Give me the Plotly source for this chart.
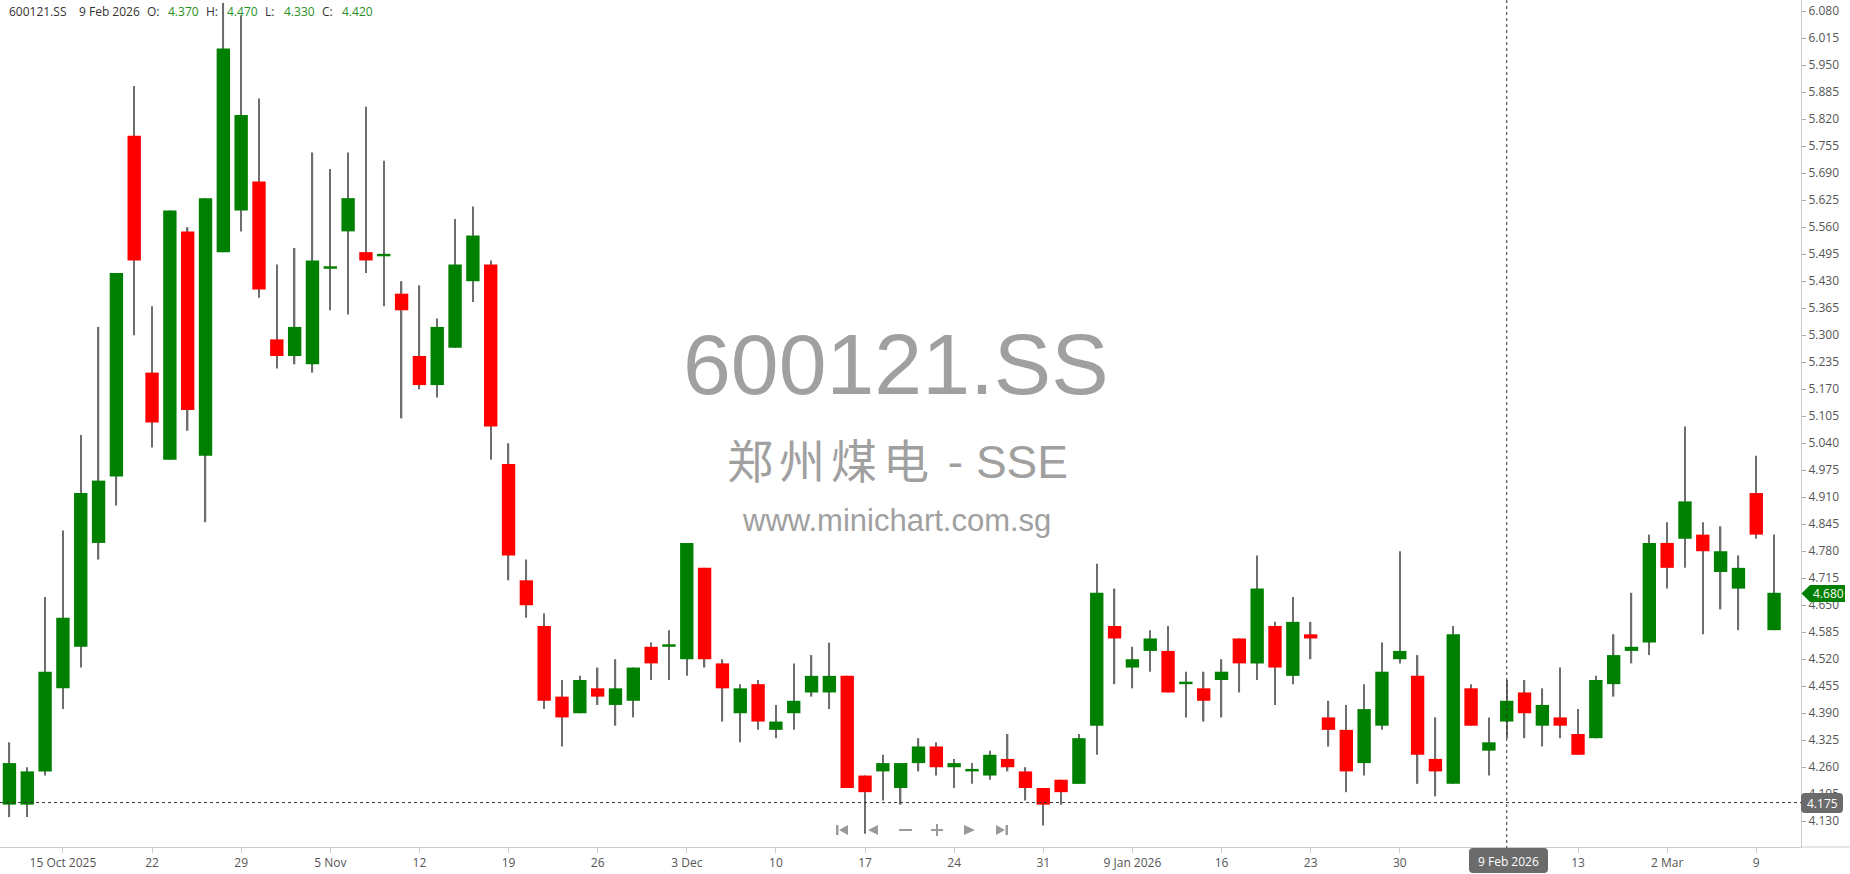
import plotly.graph_objects as go

GREEN = '#008000'
RED = '#ff0000'
WICK = '#6e6e6e'
LABEL = '#555555'

DATES = [
    '2025-10-10', '2025-10-13', '2025-10-14', '2025-10-15', '2025-10-16', '2025-10-17',
    '2025-10-20', '2025-10-21', '2025-10-22', '2025-10-23', '2025-10-24', '2025-10-27',
    '2025-10-28', '2025-10-29', '2025-10-30', '2025-10-31',
    '2025-11-03', '2025-11-04', '2025-11-05', '2025-11-06', '2025-11-07', '2025-11-10',
    '2025-11-11', '2025-11-12', '2025-11-13', '2025-11-14', '2025-11-17', '2025-11-18',
    '2025-11-19', '2025-11-20', '2025-11-21', '2025-11-24', '2025-11-25', '2025-11-26',
    '2025-11-27', '2025-11-28',
    '2025-12-01', '2025-12-02', '2025-12-03', '2025-12-04', '2025-12-05', '2025-12-08',
    '2025-12-09', '2025-12-10', '2025-12-11', '2025-12-12', '2025-12-15', '2025-12-16',
    '2025-12-17', '2025-12-18', '2025-12-19', '2025-12-22', '2025-12-23', '2025-12-24',
    '2025-12-25', '2025-12-26', '2025-12-29', '2025-12-30', '2025-12-31',
    '2026-01-05', '2026-01-06', '2026-01-07', '2026-01-08', '2026-01-09', '2026-01-12',
    '2026-01-13', '2026-01-14', '2026-01-15', '2026-01-16', '2026-01-19', '2026-01-20',
    '2026-01-21', '2026-01-22', '2026-01-23', '2026-01-26', '2026-01-27', '2026-01-28',
    '2026-01-29', '2026-01-30',
    '2026-02-02', '2026-02-03', '2026-02-04', '2026-02-05', '2026-02-06', '2026-02-09',
    '2026-02-10', '2026-02-11', '2026-02-12', '2026-02-13', '2026-02-24', '2026-02-25',
    '2026-02-26', '2026-02-27',
    '2026-03-02', '2026-03-03', '2026-03-04', '2026-03-05', '2026-03-06', '2026-03-09',
    '2026-03-10',
]

OPEN = [
    4.17, 4.17, 4.25, 4.45, 4.55, 4.80, 4.96, 5.78, 5.21, 5.00, 5.55, 5.01, 5.50, 5.60, 5.67, 5.29,
    5.25, 5.23, 5.46, 5.55, 5.50, 5.49, 5.40, 5.25, 5.18, 5.27, 5.43, 5.47, 4.99, 4.71, 4.60, 4.43,
    4.39, 4.45, 4.41, 4.42,
    4.55, 4.55, 4.52, 4.74, 4.51, 4.39, 4.46, 4.35, 4.39, 4.44, 4.44, 4.48, 4.24, 4.25, 4.21, 4.27,
    4.31, 4.26, 4.25, 4.24, 4.28, 4.25, 4.21,
    4.23, 4.22, 4.36, 4.60, 4.50, 4.54, 4.54, 4.46, 4.45, 4.47, 4.57, 4.51, 4.60, 4.48, 4.58, 4.38,
    4.35, 4.27, 4.36, 4.52,
    4.48, 4.28, 4.22, 4.45, 4.30, 4.37, 4.44, 4.36, 4.38, 4.34, 4.33, 4.46, 4.54, 4.56,
    4.80, 4.81, 4.82, 4.73, 4.69, 4.92, 4.59,
]
HIGH = [
    4.32, 4.26, 4.67, 4.83, 5.06, 5.32, 5.45, 5.90, 5.37, 5.60, 5.56, 5.63, 6.10, 6.07, 5.87, 5.47,
    5.51, 5.74, 5.70, 5.74, 5.85, 5.72, 5.43, 5.42, 5.34, 5.58, 5.61, 5.48, 5.04, 4.76, 4.63, 4.47,
    4.48, 4.50, 4.52, 4.50,
    4.56, 4.59, 4.80, 4.74, 4.52, 4.46, 4.47, 4.41, 4.51, 4.53, 4.56, 4.48, 4.24, 4.29, 4.27, 4.33,
    4.32, 4.28, 4.27, 4.30, 4.34, 4.26, 4.21,
    4.23, 4.34, 4.75, 4.69, 4.55, 4.59, 4.60, 4.49, 4.49, 4.52, 4.57, 4.77, 4.61, 4.67, 4.61, 4.42,
    4.41, 4.46, 4.56, 4.78,
    4.53, 4.38, 4.60, 4.46, 4.38, 4.47, 4.47, 4.45, 4.50, 4.40, 4.48, 4.58, 4.68, 4.82,
    4.85, 5.08, 4.85, 4.84, 4.77, 5.01, 4.82,
]
LOW = [
    4.14, 4.14, 4.24, 4.40, 4.50, 4.76, 4.89, 5.30, 5.03, 5.00, 5.07, 4.85, 5.50, 5.55, 5.39, 5.22,
    5.23, 5.21, 5.36, 5.35, 5.45, 5.37, 5.10, 5.17, 5.15, 5.27, 5.38, 5.00, 4.71, 4.62, 4.40, 4.31,
    4.39, 4.41, 4.36, 4.38,
    4.47, 4.47, 4.48, 4.50, 4.37, 4.32, 4.35, 4.33, 4.35, 4.43, 4.40, 4.21, 4.10, 4.18, 4.17, 4.25,
    4.24, 4.21, 4.22, 4.23, 4.25, 4.18, 4.12,
    4.17, 4.22, 4.29, 4.46, 4.45, 4.49, 4.44, 4.38, 4.37, 4.38, 4.44, 4.47, 4.41, 4.46, 4.52, 4.31,
    4.20, 4.24, 4.35, 4.51,
    4.22, 4.19, 4.22, 4.36, 4.24, 4.33, 4.33, 4.31, 4.33, 4.29, 4.33, 4.43, 4.51, 4.53,
    4.69, 4.74, 4.58, 4.64, 4.59, 4.81, 4.59,
]
CLOSE = [
    4.27, 4.25, 4.49, 4.62, 4.92, 4.95, 5.45, 5.48, 5.09, 5.60, 5.12, 5.63, 5.99, 5.83, 5.41, 5.25,
    5.32, 5.48, 5.46, 5.63, 5.48, 5.49, 5.36, 5.18, 5.32, 5.47, 5.54, 5.08, 4.77, 4.65, 4.42, 4.38,
    4.47, 4.43, 4.45, 4.50,
    4.51, 4.55, 4.80, 4.52, 4.45, 4.45, 4.37, 4.37, 4.42, 4.48, 4.48, 4.21, 4.20, 4.27, 4.27, 4.31,
    4.26, 4.27, 4.25, 4.29, 4.26, 4.21, 4.17,
    4.20, 4.33, 4.68, 4.57, 4.52, 4.57, 4.44, 4.46, 4.42, 4.49, 4.51, 4.69, 4.50, 4.61, 4.57, 4.35,
    4.25, 4.40, 4.49, 4.54,
    4.29, 4.25, 4.58, 4.36, 4.32, 4.42, 4.39, 4.41, 4.36, 4.29, 4.47, 4.53, 4.55, 4.80,
    4.74, 4.90, 4.78, 4.78, 4.74, 4.82, 4.68,
]

TICK_DATES = [
    '2025-10-15', '2025-10-22', '2025-10-29', '2025-11-05', '2025-11-12', '2025-11-19',
    '2025-11-26', '2025-12-03', '2025-12-10', '2025-12-17', '2025-12-24', '2025-12-31',
    '2026-01-09', '2026-01-16', '2026-01-23', '2026-01-30', '2026-02-13', '2026-03-02',
    '2026-03-09',
]
TICK_TEXT = [
    '15 Oct 2025', '22', '29', '5 Nov', '12', '19', '26', '3 Dec', '10', '17', '24', '31',
    '9 Jan 2026', '16', '23', '30', '13', '2 Mar', '9',
]
PRICE_TICKS = [
    4.130, 4.195, 4.260, 4.325, 4.390, 4.455, 4.520, 4.585, 4.650, 4.715, 4.780, 4.845,
    4.910, 4.975, 5.040, 5.105, 5.170, 5.235, 5.300, 5.365, 5.430, 5.495, 5.560, 5.625,
    5.690, 5.755, 5.820, 5.885, 5.950, 6.015, 6.080,
]

SYMBOL = '600121.SS'
NAME_CN = '郑州煤电'
NAME_EX = ' - SSE'
SITE = 'www.minichart.com.sg'
CROSS_DATE = '2026-02-09'
CROSS_PRICE = 4.175

# plot area in pixels (used for chrome placed in paper coords)
W, H = 1850, 874
PW, PH = 1801, 847


def px(x):
    return x / PW


def py(y):
    return 1 - y / PH


def rounded(x0, y0, x1, y1, r=4):
    pts = [
        ('M', x0 + r, y0), ('L', x1 - r, y0), ('Q', x1, y0, x1, y0 + r), ('L', x1, y1 - r),
        ('Q', x1, y1, x1 - r, y1), ('L', x0 + r, y1), ('Q', x0, y1, x0, y1 - r),
        ('L', x0, y0 + r), ('Q', x0, y0, x0 + r, y0),
    ]
    out = []
    for p in pts:
        vals = p[1:]
        coords = ' '.join(f'{px(vals[i]):.6f},{py(vals[i + 1]):.6f}' for i in range(0, len(vals), 2))
        out.append(p[0] + ' ' + coords)
    return ' '.join(out) + ' Z'


def poly(points):
    s = ' L '.join(f'{px(x):.6f},{py(y):.6f}' for x, y in points)
    return 'M ' + s + ' Z'


up = [c >= o for o, c in zip(OPEN, CLOSE)]
body_base = [min(o, c) for o, c in zip(OPEN, CLOSE)]
body_len = [max(abs(c - o), 0.006) for o, c in zip(OPEN, CLOSE)]
body_col = [GREEN if u else RED for u in up]

fig = go.Figure()
fig.add_trace(go.Bar(
    x=DATES, y=[h - l for h, l in zip(HIGH, LOW)], base=LOW, width=0.08,
    marker=dict(color=WICK, line=dict(width=0)), hoverinfo='skip',
))
fig.add_trace(go.Bar(
    x=DATES, y=body_len, base=body_base, width=0.75,
    marker=dict(color=body_col, line=dict(width=0)),
    customdata=list(zip(OPEN, HIGH, LOW, CLOSE)),
))

font = dict(family='Open Sans, sans-serif', size=12, color=LABEL)

fig.update_layout(
    width=W, height=H,
    margin=dict(l=0, r=W - PW, t=0, b=H - PH),
    barmode='overlay', showlegend=False,
    paper_bgcolor='white', plot_bgcolor='white',
    font=font,
)
fig.update_xaxes(
    type='category', range=[-0.53, len(DATES) + 0.51],
    tickvals=TICK_DATES, ticktext=TICK_TEXT,
    ticks='outside', ticklen=5, tickcolor='#cccccc',
    showline=True, linecolor='#cccccc', showgrid=False, zeroline=False,
    tickfont=font,
)
fig.update_yaxes(
    side='right', range=[4.068, 6.107],
    tickvals=PRICE_TICKS, ticktext=[f'{v:.3f}' for v in PRICE_TICKS],
    ticks='outside', ticklen=4, tickcolor='#aaaaaa',
    showline=True, linecolor='#cccccc', showgrid=False, zeroline=False,
    tickfont=font,
)

shapes = []
# crosshair
shapes.append(dict(type='line', xref='x', yref='paper', x0=CROSS_DATE, x1=CROSS_DATE,
                   y0=py(849), y1=1, line=dict(color='#333333', width=1, dash='dot')))
shapes.append(dict(type='line', xref='paper', yref='y', x0=0, x1=1, y0=CROSS_PRICE, y1=CROSS_PRICE,
                   line=dict(color='#333333', width=1, dash='3px,3px')))
# bottom axis line runs under the price scale too
shapes.append(dict(type='line', xref='paper', yref='paper', x0=1, x1=px(W), y0=0, y1=0,
                   line=dict(color='#cccccc', width=1)))
# label boxes
shapes.append(dict(type='path', xref='paper', yref='paper', path=rounded(1469, 848, 1548, 873),
                   fillcolor='#6b6b6b', line=dict(width=0)))
shapes.append(dict(type='path', xref='paper', yref='paper', path=rounded(1801, 793, 1843, 813),
                   fillcolor='#6b6b6b', line=dict(width=0)))
shapes.append(dict(type='path', xref='paper', yref='paper',
                   path=poly([(1801.5, 593.5), (1810, 585), (1845, 585), (1845, 602), (1810, 602)]),
                   fillcolor=GREEN, line=dict(width=0)))
# navigation buttons
NAV = '#9a9a9a'
nav_paths = [
    poly([(836, 825), (838.5, 825), (838.5, 835), (836, 835)]),
    poly([(848, 825), (839, 830), (848, 835)]),
    poly([(878, 825), (868, 830), (878, 835)]),
    poly([(899, 829), (912, 829), (912, 831), (899, 831)]),
    poly([(931, 829), (943, 829), (943, 831), (931, 831)]),
    poly([(936, 824), (938, 824), (938, 836), (936, 836)]),
    poly([(964, 825), (975, 830), (964, 835)]),
    poly([(996, 825), (1005, 830), (996, 835)]),
    poly([(1005.5, 825), (1008, 825), (1008, 835), (1005.5, 835)]),
]
for p in nav_paths:
    shapes.append(dict(type='path', xref='paper', yref='paper', path=p,
                       fillcolor=NAV, line=dict(width=0)))
fig.update_layout(shapes=shapes)

ann = []
# watermark
ann.append(dict(text=SYMBOL, x=px(896), y=py(364), font=dict(family='Liberation Sans, Arial', size=86, color='#a0a0a0')))
ann.append(dict(text=f'<span style="letter-spacing:6px">{NAME_CN}</span>{NAME_EX}', x=px(897), y=py(462),
                font=dict(family='Liberation Sans, Noto Sans CJK SC', size=46, color='#a0a0a0')))
ann.append(dict(text=SITE, x=px(896), y=py(520), font=dict(family='Liberation Sans, Arial', size=31, color='#a0a0a0')))
# labels on the boxes
ann.append(dict(text='9 Feb 2026', x=px(1508.5), y=py(861), font=dict(family='Open Sans', size=12, color='white')))
ann.append(dict(text=f'{CROSS_PRICE:.3f}', x=px(1822), y=py(803.5), font=dict(family='Open Sans', size=12, color='white')))
ann.append(dict(text=f'{CLOSE[-1]:.3f}', x=px(1828), y=py(593.5), font=dict(family='Open Sans', size=12, color='white')))

# OHLC header for the crosshair day
i = DATES.index(CROSS_DATE)
VAL = '#1f8f1f'
header = [
    (SYMBOL, 7, '#333333'), ('9 Feb 2026', 77, '#333333'),
    ('O:', 145, '#333333'), (f'{OPEN[i]:.3f}', 166, VAL),
    ('H:', 204, '#333333'), (f'{HIGH[i]:.3f}', 225, VAL),
    ('L:', 263, '#333333'), (f'{LOW[i]:.3f}', 282, VAL),
    ('C:', 320, '#333333'), (f'{CLOSE[i]:.3f}', 340, VAL),
]
for txt, x, col in header:
    ann.append(dict(text=txt, x=px(x), y=py(11), xanchor='left',
                    font=dict(family='Open Sans', size=12, color=col)))

for a in ann:
    a.setdefault('xanchor', 'center')
    a.update(xref='paper', yref='paper', yanchor='middle', showarrow=False)
fig.update_layout(annotations=ann)

fig.write_html('out.html', config={'displayModeBar': False},
               post_script="document.body.style.margin='0';document.body.style.overflow='hidden';")
